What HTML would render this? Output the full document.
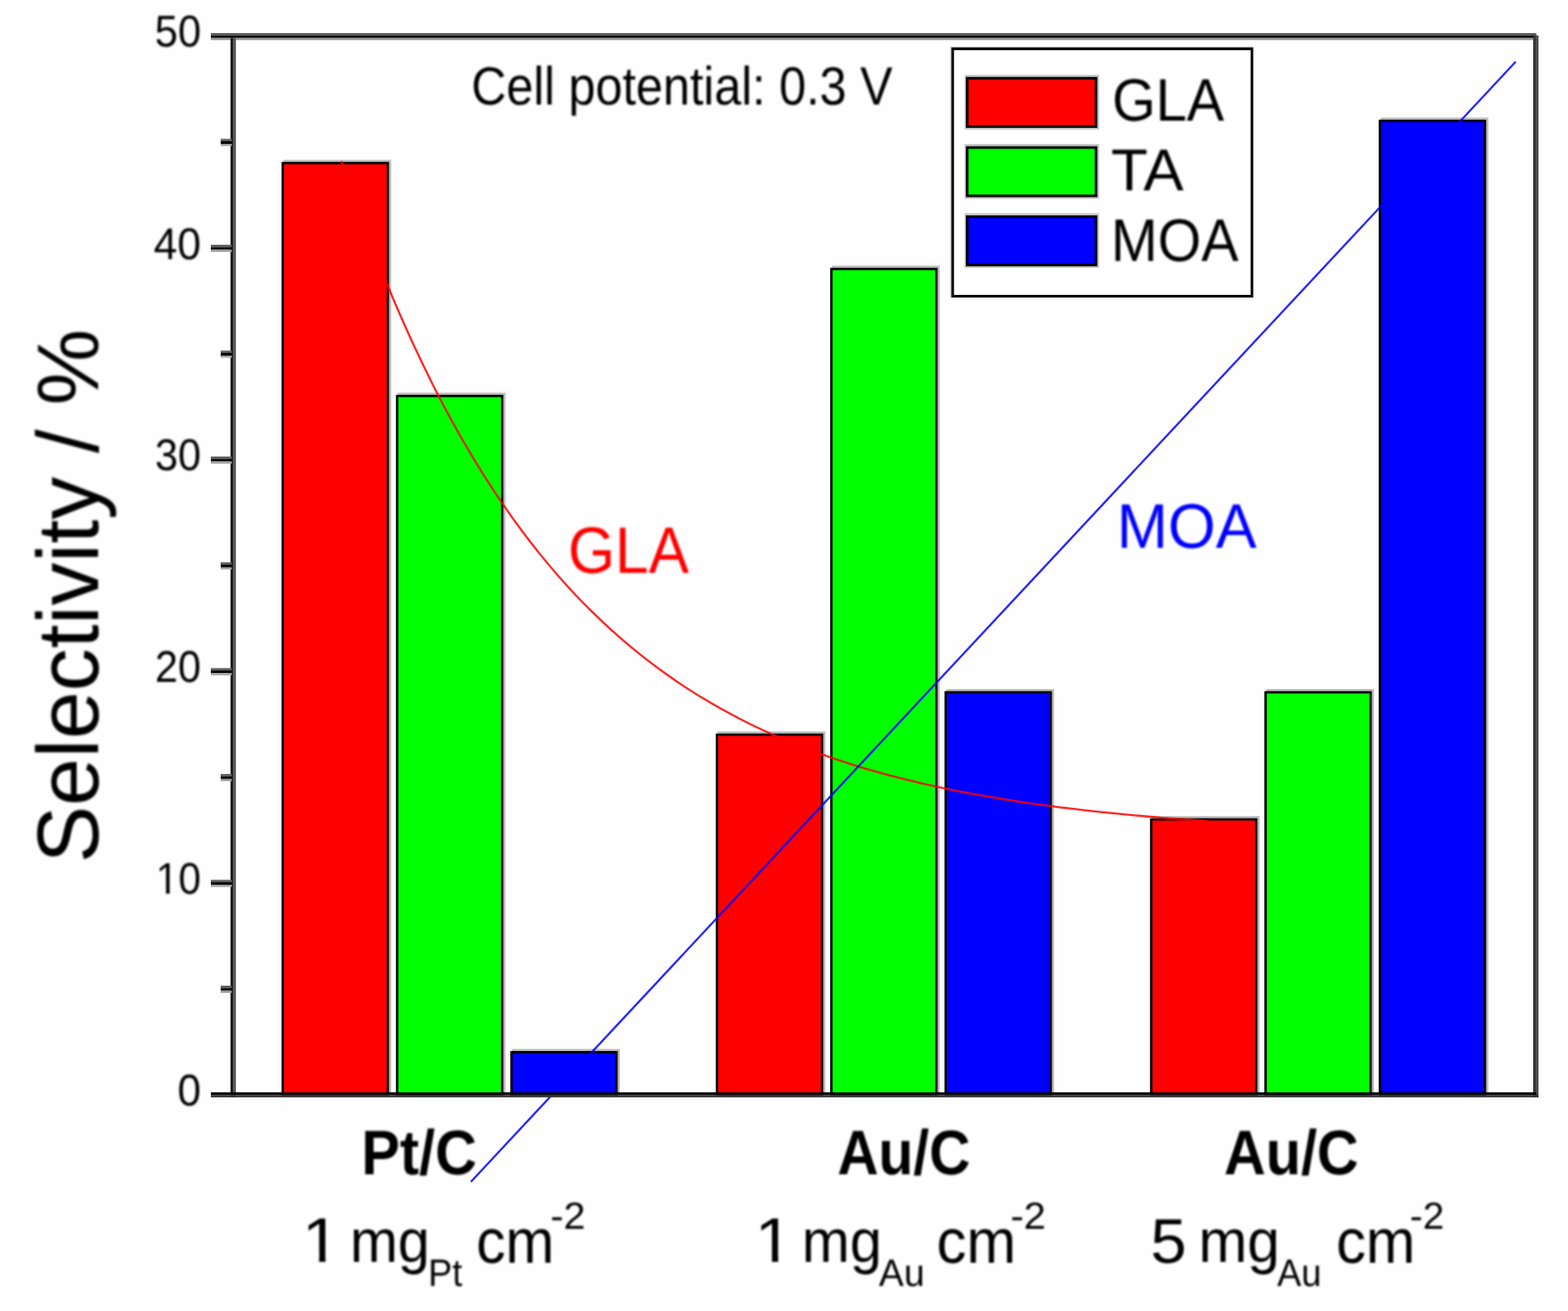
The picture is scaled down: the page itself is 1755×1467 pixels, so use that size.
<!DOCTYPE html>
<html lang="en">
<head>
<meta charset="utf-8">
<title>Selectivity chart</title>
<style>
html,body{margin:0;padding:0;background:#fefefe;}
body{width:1755px;height:1467px;overflow:hidden;}
svg{display:block;}
</style>
</head>
<body>
<svg width="1755" height="1467" viewBox="0 0 1755 1467" font-family='"Liberation Sans", sans-serif' role="img" aria-label="Selectivity bar chart">
<rect x="0" y="0" width="1755" height="1467" fill="#fefefe"/>
<defs><filter id="soft" x="0" y="0" width="1755" height="1467" filterUnits="userSpaceOnUse" color-interpolation-filters="sRGB"><feGaussianBlur stdDeviation="1.0"/></filter></defs>
<g>
<g id="bars">
<rect x="317.2" y="178.8" width="120.6" height="1046.2" fill="#bebebe"/>
<rect x="316.5" y="182.5" width="117.6" height="1042.5" fill="#ff0000" stroke="#000" stroke-width="2.6"/>
<rect x="445.2" y="439.4" width="120.6" height="785.6" fill="#bebebe"/>
<rect x="444.5" y="443.1" width="117.6" height="781.9" fill="#00ff00" stroke="#000" stroke-width="2.6"/>
<rect x="573.2" y="1173.7" width="120.6" height="51.3" fill="#bebebe"/>
<rect x="572.5" y="1177.4" width="117.6" height="47.6" fill="#0000ff" stroke="#000" stroke-width="2.6"/>
<rect x="803.2" y="818.4" width="120.6" height="406.6" fill="#bebebe"/>
<rect x="802.5" y="822.1" width="117.6" height="402.9" fill="#ff0000" stroke="#000" stroke-width="2.6"/>
<rect x="931.2" y="297.3" width="120.6" height="927.7" fill="#bebebe"/>
<rect x="930.5" y="301.0" width="117.6" height="924.0" fill="#00ff00" stroke="#000" stroke-width="2.6"/>
<rect x="1059.2" y="771.0" width="120.6" height="454.0" fill="#bebebe"/>
<rect x="1058.5" y="774.7" width="117.6" height="450.3" fill="#0000ff" stroke="#000" stroke-width="2.6"/>
<rect x="1289.2" y="913.2" width="120.6" height="311.8" fill="#bebebe"/>
<rect x="1288.5" y="916.9" width="117.6" height="308.1" fill="#ff0000" stroke="#000" stroke-width="2.6"/>
<rect x="1417.2" y="771.0" width="120.6" height="454.0" fill="#bebebe"/>
<rect x="1416.5" y="774.7" width="117.6" height="450.3" fill="#00ff00" stroke="#000" stroke-width="2.6"/>
<rect x="1545.2" y="131.5" width="120.6" height="1093.5" fill="#bebebe"/>
<rect x="1544.5" y="135.2" width="117.6" height="1089.8" fill="#0000ff" stroke="#000" stroke-width="2.6"/>
</g>
<g id="curves" fill="none">
<path d="M382.0,180.4 C388.7,200.4 395.5,219.6 402.2,238.1 C409.0,256.5 415.7,274.3 422.5,291.3 C429.2,308.4 436.0,324.8 442.7,340.5 C449.5,356.3 456.2,371.4 463.0,386.0 C469.7,400.5 476.5,414.5 483.2,427.9 C489.9,441.4 496.7,454.3 503.4,466.7 C510.2,479.1 516.9,491.0 523.7,502.5 C530.4,514.0 537.2,525.0 543.9,535.6 C550.7,546.2 557.4,556.3 564.2,566.1 C570.9,575.9 577.6,585.3 584.4,594.3 C591.1,603.4 597.9,612.0 604.6,620.4 C611.4,628.7 618.1,636.7 624.9,644.5 C631.6,652.2 638.4,659.6 645.1,666.7 C651.9,673.8 658.6,680.6 665.4,687.2 C672.1,693.8 678.8,700.1 685.6,706.2 C692.3,712.2 699.1,718.1 705.8,723.7 C712.6,729.3 719.3,734.7 726.1,739.9 C732.8,745.0 739.6,750.0 746.3,754.8 C753.1,759.6 759.8,764.2 766.6,768.6 C773.3,773.0 780.0,777.3 786.8,781.3 C793.5,785.4 800.3,789.3 807.0,793.1 C813.8,796.9 820.5,800.5 827.3,804.0 C834.0,807.5 840.8,810.8 847.5,814.0 C854.3,817.2 861.0,820.3 867.8,823.3 C874.5,826.3 881.2,829.1 888.0,831.9 C894.7,834.6 901.5,837.2 908.2,839.8 C915.0,842.3 921.7,844.7 928.5,847.1 C935.2,849.4 942.0,851.7 948.7,853.8 C955.5,856.0 962.2,858.1 968.9,860.1 C975.7,862.1 982.4,864.0 989.2,865.8 C995.9,867.7 1002.7,869.4 1009.4,871.1 C1016.2,872.9 1022.9,874.5 1029.7,876.1 C1036.4,877.6 1043.2,879.1 1049.9,880.6 C1056.7,882.0 1063.4,883.4 1070.1,884.8 C1076.9,886.1 1083.6,887.4 1090.4,888.7 C1097.1,889.9 1103.9,891.1 1110.6,892.2 C1117.4,893.4 1124.1,894.5 1130.9,895.5 C1137.6,896.6 1144.4,897.6 1151.1,898.6 C1157.9,899.6 1164.6,900.5 1171.3,901.4 C1178.1,902.3 1184.8,903.2 1191.6,904.0 C1198.3,904.8 1205.1,905.6 1211.8,906.4 C1218.6,907.2 1225.3,907.9 1232.1,908.6 C1238.8,909.3 1245.6,910.0 1252.3,910.7 C1259.0,911.3 1265.8,912.0 1272.5,912.6 C1279.3,913.2 1286.0,913.8 1292.8,914.3 C1299.5,914.9 1306.3,915.4 1313.0,915.9 C1319.8,916.4 1326.5,916.9 1333.3,917.4 C1340.0,917.9 1346.8,918.4 1353.5,918.8" stroke="#ff0000" stroke-width="2.3" stroke-opacity="0.85"/>
<line x1="527" y1="1322.5" x2="1696.5" y2="69" stroke="#0000ff" stroke-width="2.3" stroke-opacity="0.85"/>
</g>
<g id="axes">
<rect x="236.0" y="37.0" width="1483.5" height="2.7" fill="#5e5e5e"/>
<rect x="236.0" y="39.6" width="1483.5" height="3.1" fill="#040404"/>
<rect x="236.0" y="42.6" width="1483.5" height="2.4" fill="#a2a2a2"/>
<rect x="258.0" y="42.5" width="3.5" height="1185.4" fill="#202020"/>
<rect x="261.4" y="42.5" width="2.6" height="1185.4" fill="#555555"/>
<rect x="1716.0" y="39.6" width="3.1" height="1188.3" fill="#383838"/>
<rect x="1719.0" y="39.6" width="3.0" height="1188.3" fill="#505050"/>
<rect x="236.0" y="1222.3" width="1483.5" height="3.0" fill="#040404"/>
<rect x="236.0" y="1225.2" width="1486.0" height="2.7" fill="#363636"/>
<rect x="236.0" y="984.5" width="23.5" height="2.7" fill="#5e5e5e"/>
<rect x="236.0" y="987.1" width="23.5" height="3.1" fill="#040404"/>
<rect x="236.0" y="990.1" width="23.5" height="2.4" fill="#a2a2a2"/>
<rect x="236.0" y="747.6" width="23.5" height="2.7" fill="#5e5e5e"/>
<rect x="236.0" y="750.2" width="23.5" height="3.1" fill="#040404"/>
<rect x="236.0" y="753.2" width="23.5" height="2.4" fill="#a2a2a2"/>
<rect x="236.0" y="510.8" width="23.5" height="2.7" fill="#5e5e5e"/>
<rect x="236.0" y="513.4" width="23.5" height="3.1" fill="#040404"/>
<rect x="236.0" y="516.4" width="23.5" height="2.4" fill="#a2a2a2"/>
<rect x="236.0" y="273.9" width="23.5" height="2.7" fill="#5e5e5e"/>
<rect x="236.0" y="276.5" width="23.5" height="3.1" fill="#040404"/>
<rect x="236.0" y="279.5" width="23.5" height="2.4" fill="#a2a2a2"/>
<rect x="247.0" y="1103.0" width="12.5" height="2.7" fill="#5e5e5e"/>
<rect x="247.0" y="1105.6" width="12.5" height="3.1" fill="#040404"/>
<rect x="247.0" y="1108.6" width="12.5" height="2.4" fill="#a2a2a2"/>
<rect x="247.0" y="866.1" width="12.5" height="2.7" fill="#5e5e5e"/>
<rect x="247.0" y="868.7" width="12.5" height="3.1" fill="#040404"/>
<rect x="247.0" y="871.7" width="12.5" height="2.4" fill="#a2a2a2"/>
<rect x="247.0" y="629.2" width="12.5" height="2.7" fill="#5e5e5e"/>
<rect x="247.0" y="631.8" width="12.5" height="3.1" fill="#040404"/>
<rect x="247.0" y="634.8" width="12.5" height="2.4" fill="#a2a2a2"/>
<rect x="247.0" y="392.3" width="12.5" height="2.7" fill="#5e5e5e"/>
<rect x="247.0" y="394.9" width="12.5" height="3.1" fill="#040404"/>
<rect x="247.0" y="397.9" width="12.5" height="2.4" fill="#a2a2a2"/>
<rect x="247.0" y="155.4" width="12.5" height="2.7" fill="#5e5e5e"/>
<rect x="247.0" y="158.0" width="12.5" height="3.1" fill="#040404"/>
<rect x="247.0" y="161.0" width="12.5" height="2.4" fill="#a2a2a2"/>
</g>
<g id="legend">
<rect x="1063.6" y="52.0" width="339" height="281" fill="#c9c9c9"/>
<rect x="1066.3" y="54.7" width="334.9" height="276.7" fill="#ffffff" stroke="#000" stroke-width="2.9"/>
<rect x="1079.6" y="83.7" width="150.6" height="61.3" fill="#c4c4c4"/>
<rect x="1082.5" y="87.6" width="144.3" height="54" fill="#ff0000" stroke="#000" stroke-width="2.9"/>
<rect x="1079.6" y="161.2" width="150.6" height="61.3" fill="#c4c4c4"/>
<rect x="1082.5" y="165.1" width="144.3" height="54" fill="#00ff00" stroke="#000" stroke-width="2.9"/>
<rect x="1079.6" y="238.6" width="150.6" height="61.3" fill="#c4c4c4"/>
<rect x="1082.5" y="242.5" width="144.3" height="54" fill="#0000ff" stroke="#000" stroke-width="2.9"/>
</g>
<defs><clipPath id="one48" clipPathUnits="userSpaceOnUse"><rect x="-20" y="-62.40" width="192" height="56.41"/><rect x="11.97" y="-6.47" width="4.44" height="8.47"/><rect x="26.70" y="-62.40" width="192" height="96"/></clipPath><clipPath id="one67" clipPathUnits="userSpaceOnUse"><rect x="-20" y="-87.10" width="268" height="78.74"/><rect x="16.75" y="-9.03" width="6.12" height="11.03"/><rect x="37.26" y="-87.10" width="268" height="134"/></clipPath></defs>
<g id="labels" text-rendering="geometricPrecision" filter="url(#soft)">
<text transform="translate(173.30 52.18) scale(0.9676 1.0351)" font-size="48" fill="#000">50</text>
<text transform="translate(172.06 289.77) scale(0.9901 1.0392)" font-size="48" fill="#000">40</text>
<text transform="translate(173.53 526.16) scale(0.9625 1.0347)" font-size="48" fill="#000">30</text>
<text transform="translate(173.51 762.92) scale(0.9606 1.0338)" font-size="48" fill="#000">20</text>
<text transform="translate(174.52 1000.37) scale(0.9405 1.0336)" font-size="48" fill="#000" clip-path="url(#one48)">10</text>
<text transform="translate(198.80 1236.89) scale(0.9805 1.0340)" font-size="48" fill="#000">0</text>
<text transform="translate(110.19 965.77) rotate(-90) scale(1.0001 1.0165)" font-size="96" fill="#000">Selectivity / %</text>
<text transform="translate(527.46 117.01) scale(0.9373 1.0400)" font-size="58" fill="#000">Cell potential: 0.3 V</text>
<text transform="translate(635.63 641.17) scale(0.9963 1.0825)" font-size="68" fill="#ff0000">GLA</text>
<text transform="translate(1250.07 612.93) scale(1.0102 1.0375)" font-size="68" fill="#0000ff">MOA</text>
<text transform="translate(1244.66 135.42) scale(0.9805 1.0484)" font-size="64" fill="#000">GLA</text>
<text transform="translate(1243.59 213.18) scale(1.0547 1.0322)" font-size="64" fill="#000">TA</text>
<text transform="translate(1243.42 291.52) scale(0.9793 1.0515)" font-size="64" fill="#000">MOA</text>
<text transform="translate(404.45 1314.23) scale(0.9507 1.0386)" font-size="68" font-weight="bold" fill="#000">Pt/C</text>
<text transform="translate(937.18 1314.23) scale(0.9386 1.0386)" font-size="68" font-weight="bold" fill="#000">Au/C</text>
<text transform="translate(1370.07 1314.23) scale(0.9499 1.0386)" font-size="68" font-weight="bold" fill="#000">Au/C</text>
<text transform="translate(338.02 1412.44) scale(1.1459 1.0549)" font-size="67" fill="#000" clip-path="url(#one67)">1</text>
<text transform="translate(391.68 1411.67) scale(0.9596 1.0158)" font-size="67" fill="#000">mg</text>
<text transform="translate(479.31 1438.87) scale(1.0319 1.1022)" font-size="39" fill="#000">Pt</text>
<text transform="translate(533.05 1412.69) scale(0.9788 1.0450)" font-size="67" fill="#000">cm</text>
<text transform="translate(616.02 1374.81) scale(1.1016 1.0554)" font-size="40" fill="#000">-2</text>
<text transform="translate(844.82 1412.44) scale(1.1458 1.0549)" font-size="67" fill="#000" clip-path="url(#one67)">1</text>
<text transform="translate(897.61 1411.68) scale(0.9599 1.0155)" font-size="67" fill="#000">mg</text>
<text transform="translate(983.80 1439.19) scale(1.0697 1.1042)" font-size="39" fill="#000">Au</text>
<text transform="translate(1048.34 1412.66) scale(0.9950 1.0449)" font-size="67" fill="#000">cm</text>
<text transform="translate(1130.95 1374.81) scale(1.1161 1.0549)" font-size="40" fill="#000">-2</text>
<text transform="translate(1287.83 1412.88) scale(1.0816 1.0501)" font-size="67" fill="#000">5</text>
<text transform="translate(1341.42 1411.68) scale(0.9765 1.0155)" font-size="67" fill="#000">mg</text>
<text transform="translate(1429.49 1439.19) scale(1.0385 1.1046)" font-size="39" fill="#000">Au</text>
<text transform="translate(1495.41 1412.65) scale(0.9925 1.0448)" font-size="67" fill="#000">cm</text>
<text transform="translate(1578.02 1374.81) scale(1.0780 1.0550)" font-size="40" fill="#000">-2</text>
</g>
</g>
</svg>
</body>
</html>
